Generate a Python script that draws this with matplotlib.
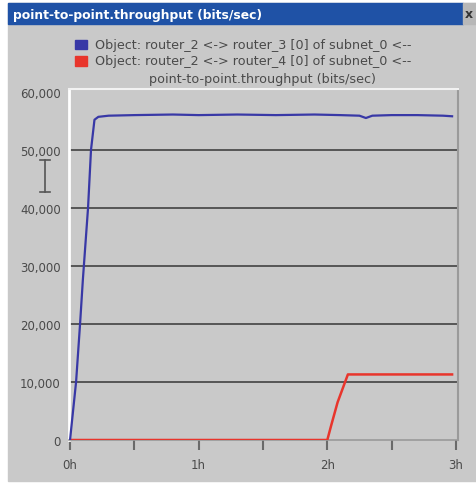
import matplotlib.pyplot as plt
from matplotlib.patches import Rectangle
from matplotlib.lines import Line2D

# values (time in hours, throughput in bits/sec)
blue_t = [0, 0.047, 0.078, 0.10, 0.14, 0.163, 0.19, 0.22, 0.3, 0.5, 0.8, 1.0,
          1.3, 1.6, 1.9, 2.1, 2.25, 2.3, 2.35, 2.5, 2.7, 2.9, 2.97]
blue_v = [0, 10000, 20000, 27700, 40000, 50000, 55200, 55700, 55900, 56000,
          56100, 56000, 56100, 56000, 56100, 56000, 55900, 55500, 55900, 56000,
          56000, 55900, 55800]
red_t = [0, 2.0, 2.03, 2.08, 2.16, 2.5, 2.97]
red_v = [0, 0, 2500, 6500, 11300, 11300, 11300]

labels = ["Object: router_2 <-> router_3 [0] of subnet_0 <--",
          "Object: router_2 <-> router_4 [0] of subnet_0 <--"]
stat_name = "point-to-point.throughput (bits/sec)"
x_ticks = [0, 1, 2, 3]
x_tick_labels = ["0h", "1h", "2h", "3h"]
y_ticks = [0, 10000, 20000, 30000, 40000, 50000, 60000]

W, H = 476, 485
bg = '#c9c9c9'
txt = '#4a4a4a'
blue = '#3838a6'
red = '#e8352c'

fig = plt.figure(figsize=(W / 100, H / 100), dpi=100)
fig.patch.set_facecolor('white')

def fx(px):
    return px / W

def fy(py):
    return 1 - py / H

# window body and title bar
fig.add_artist(Rectangle((fx(8), fy(482)), fx(468), (482 - 4) / H,
                         transform=fig.transFigure, color=bg, zorder=0))
fig.add_artist(Rectangle((fx(8), fy(25)), fx(455), 21 / H,
                         transform=fig.transFigure, color='#1f52a6', zorder=1))
fig.add_artist(Rectangle((fx(463), fy(25)), fx(13), 21 / H,
                         transform=fig.transFigure, color='#b8b8b8', zorder=1))
fig.text(fx(13), fy(15), stat_name, color='white', fontsize=8.9,
         fontweight='bold', va='center', ha='left')
fig.text(fx(469), fy(15), "x", color='#333333', fontsize=9,
         fontweight='bold', va='center', ha='center')

# legend
for i, (lab, c) in enumerate(zip(labels, [blue, red])):
    yy = 45 + i * 17
    fig.add_artist(Rectangle((fx(75), fy(yy + 4.5)), fx(12), 9 / H,
                             transform=fig.transFigure, color=c, zorder=2))
    fig.text(fx(95), fy(yy), lab, color=txt, fontsize=9.2, va='center', ha='left')
fig.text(fx(262), fy(79), stat_name, color=txt, fontsize=9.2,
         va='center', ha='center')

# I-beam marker at left
for seg in [((45, 45), (161, 193)), ((40, 50), (161, 161)), ((40, 50), (193, 193))]:
    fig.add_artist(Line2D([fx(p) for p in seg[0]], [fy(p) for p in seg[1]],
                          transform=fig.transFigure, color='#555555', lw=1.2))

ax = fig.add_axes([fx(69), fy(441), fx(458 - 69), (441 - 90) / H])
ax.set_facecolor(bg)
ax.set_xlim(-0.008, 3.016)
ax.set_ylim(0, 60500)

for v in y_ticks[1:-1]:
    ax.axhline(v, color='#555555', lw=1.4, zorder=1)

ax.plot(red_t, red_v, color=red, lw=1.8, zorder=3)
ax.plot(blue_t, blue_v, color=blue, lw=1.6, zorder=4)

ax.spines['left'].set_color('white')
ax.spines['left'].set_linewidth(2)
ax.spines['top'].set_color('#f2f2f2')
ax.spines['top'].set_linewidth(1.5)
ax.spines['right'].set_color('#9a9a9a')
ax.spines['right'].set_linewidth(1.5)
ax.spines['bottom'].set_color('#9a9a9a')
ax.spines['bottom'].set_linewidth(1.2)

ax.set_xticks(x_ticks)
ax.set_xticklabels(x_tick_labels)
ax.set_xticks([0.5, 1.5, 2.5], minor=True)
ax.tick_params(axis='x', which='both', direction='out', length=7, width=1.5,
               color='#6a6a6a', labelcolor=txt, labelsize=8.5, pad=6)
ax.set_yticks(y_ticks)
ax.set_yticklabels([f"{v:,}" for v in y_ticks])
ax.tick_params(axis='y', length=0, labelcolor=txt, labelsize=8.5, pad=6)

fig.savefig('out.png', dpi=100, facecolor=fig.get_facecolor())
